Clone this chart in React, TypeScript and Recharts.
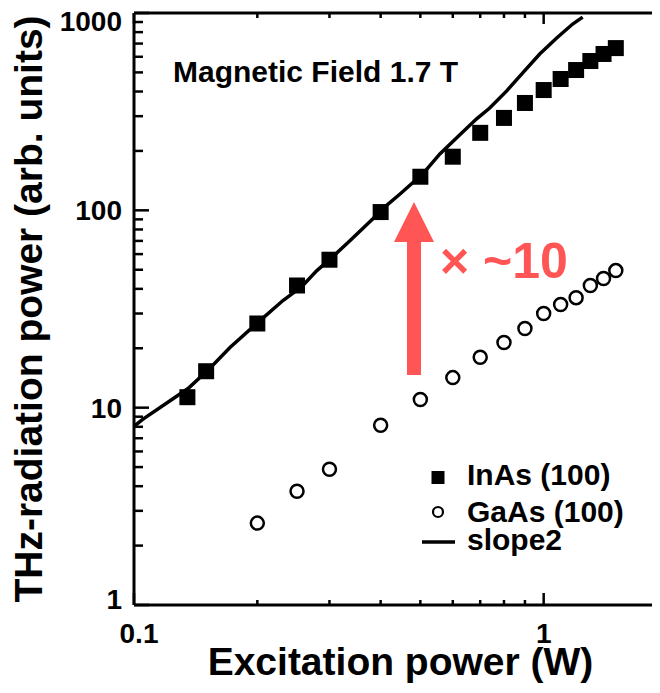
import React from 'react';
import { ComposedChart, Scatter, XAxis, YAxis, Legend } from 'recharts';

// ---- data ----
const inasX = [0.135, 0.15, 0.2, 0.25, 0.3, 0.4, 0.5, 0.6, 0.7, 0.8, 0.9, 1.0, 1.1, 1.2, 1.3, 1.4, 1.5];
const inasY = [11.3, 15.3, 26.7, 41.6, 56.2, 98, 148, 187, 247, 294, 350, 407, 463, 514, 571, 620, 664];
const gaasX = [0.2, 0.25, 0.3, 0.4, 0.5, 0.6, 0.7, 0.8, 0.9, 1.0, 1.1, 1.2, 1.3, 1.4, 1.5];
const gaasY = [2.6, 3.77, 4.87, 8.14, 11.0, 14.2, 18.0, 21.4, 25.2, 30.0, 33.3, 36.1, 41.6, 45.1, 49.5];
const slopeX = [0.1, 0.105, 0.1355, 0.153, 0.1715, 0.203, 0.231, 0.257, 0.2795, 0.304, 0.3365, 0.383, 0.405, 0.446, 0.507, 0.558, 0.6135, 0.686, 0.7385, 0.8125, 0.889, 0.978, 1.076, 1.177, 1.245];
const slopeY = [8.04, 8.73, 12.5, 15.8, 20.2, 27.6, 34.9, 41.1, 49.5, 57.6, 70.2, 90.7, 102, 121, 153, 193, 233, 291, 330, 403, 497, 620, 747, 879, 953];

const xTicks = [0.1, 0.2, 0.3, 0.4, 0.5, 0.6, 0.7, 0.8, 0.9, 1];
const xMajor = [0.1, 1];
const yTicks = [1, 2, 3, 4, 5, 6, 7, 8, 9, 10, 20, 30, 40, 50, 60, 70, 80, 90, 100, 200, 300, 400, 500, 600, 700, 800, 900, 1000];
const yMajor = [1, 10, 100, 1000];

const seriesNames = ['InAs (100)', 'GaAs (100)', 'slope2'];
const annotationText = 'Magnetic Field 1.7 T';
const factorText = '\u00d7 ~10';
const xTitle = 'Excitation power (W)';
const yTitle = 'THz-radiation power (arb. units)';

const inasData = inasX.map((x, i) => ({ x, y: inasY[i] }));
const gaasData = gaasX.map((x, i) => ({ x, y: gaasY[i] }));
const slopeData = slopeX.map((x, i) => ({ x, y: slopeY[i] }));

const FONT = '"Liberation Sans", Arial, Helvetica, sans-serif';
const RED = '#ff5555';

const BottomTick = (p: any) => {
  const { x, y, payload } = p;
  const v = payload.value;
  const major = xMajor.includes(v);
  return (
    <g>
      <line x1={x} x2={x} y1={y} y2={y - (major ? 12 : 5)} stroke="#000" strokeWidth={2.5} />
      {major && (
        <text x={x + (v === 0.1 ? 5 : 0)} y={y + 38} textAnchor="middle" fontFamily={FONT} fontWeight="bold" fontSize={28} fill="#000">
          {String(v)}
        </text>
      )}
    </g>
  );
};

const TopTick = (p: any) => {
  const { x, y, payload } = p;
  const major = xMajor.includes(payload.value);
  return <line x1={x} x2={x} y1={y} y2={y + (major ? 11 : 5)} stroke="#000" strokeWidth={2.5} />;
};

const LeftTick = (p: any) => {
  const { x, y, payload } = p;
  const v = payload.value;
  const major = yMajor.includes(v);
  const shift = v === 1000 ? 8 : v === 1 ? -6 : 0;
  return (
    <g>
      <line x1={x} x2={x + (major ? 15 : 9)} y1={y} y2={y} stroke="#000" strokeWidth={2.5} />
      {major && (
        <text x={x - 12} y={y + shift} dy="0.36em" textAnchor="end" fontFamily={FONT} fontWeight="bold" fontSize={28} fill="#000">
          {String(v)}
        </text>
      )}
    </g>
  );
};

const RightTick = (p: any) => {
  const { x, y, payload } = p;
  const major = yMajor.includes(payload.value);
  return <line x1={x} x2={x - (major ? 14 : 9)} y1={y} y2={y} stroke="#000" strokeWidth={2.5} />;
};

const SquareShape = (p: any) => <rect x={p.cx - 8} y={p.cy - 8} width={16} height={16} fill="#000" />;
const CircleShape = (p: any) => <circle cx={p.cx} cy={p.cy} r={6.5} fill="#fff" stroke="#000" strokeWidth={2.5} />;
const NoShape = () => <g />;

const XTitle = (p: any) => {
  const vb = p.viewBox;
  return (
    <text x={vb.x + vb.width / 2} y={vb.y + 70} textAnchor="middle" fontFamily={FONT} fontWeight="bold" fontSize={39} fill="#000">
      {xTitle}
    </text>
  );
};

const YTitle = (p: any) => {
  const vb = p.viewBox;
  const cx = 34;
  const cy = vb.y + vb.height / 2;
  return (
    <text x={cx} y={cy} transform={`rotate(-90, ${cx}, ${cy})`} textAnchor="middle" fontFamily={FONT} fontWeight="bold" fontSize={39} fill="#000">
      {yTitle}
    </text>
  );
};

const LegendContent = () => (
  <svg width={240} height={110} style={{ display: 'block', overflow: 'visible' }}>
    <rect x={23.5} y={23} width={13} height={13} fill="#000" />
    <circle cx={30} cy={64} r={5} fill="#fff" stroke="#000" strokeWidth={2.2} />
    <line x1={14} x2={47} y1={94} y2={94} stroke="#000" strokeWidth={3.5} />
    {seriesNames.map((n, i) => (
      <text key={n} x={59} y={[37, 74, 102][i]} fontFamily={FONT} fontWeight="bold" fontSize={30} fill="#000">
        {n}
      </text>
    ))}
  </svg>
);

export default function App() {
  return (
    <div style={{ position: 'relative', width: 652, height: 677, overflow: 'hidden', background: '#fff' }}>
      <ComposedChart width={672} height={677} margin={{ top: 4, right: 12, left: 0, bottom: 0 }}>
        <XAxis
          xAxisId="b"
          dataKey="x"
          type="number"
          scale="log"
          domain={[0.1, 2]}
          allowDataOverflow
          ticks={xTicks}
          interval={0}
          tickSize={0}
          tickMargin={0}
          tickLine={false}
          tick={<BottomTick />}
          axisLine={{ stroke: '#000', strokeWidth: 3 }}
          height={80}
          orientation="bottom"
          label={<XTitle />}
        />
        <XAxis
          xAxisId="t"
          dataKey="x"
          type="number"
          scale="log"
          domain={[0.1, 2]}
          allowDataOverflow
          ticks={xTicks}
          interval={0}
          tickSize={0}
          tickMargin={0}
          tickLine={false}
          tick={<TopTick />}
          axisLine={{ stroke: '#000', strokeWidth: 3 }}
          height={1}
          orientation="top"
        />
        <YAxis
          yAxisId="l"
          dataKey="y"
          type="number"
          scale="log"
          domain={[1, 1000]}
          allowDataOverflow
          ticks={yTicks}
          interval={0}
          tickSize={0}
          tickMargin={0}
          tickLine={false}
          tick={<LeftTick />}
          axisLine={{ stroke: '#000', strokeWidth: 3 }}
          width={126}
          orientation="left"
          label={<YTitle />}
        />
        <YAxis
          yAxisId="r"
          dataKey="y"
          type="number"
          scale="log"
          domain={[1, 1000]}
          allowDataOverflow
          ticks={yTicks}
          interval={0}
          tickSize={0}
          tickMargin={0}
          tickLine={false}
          tick={<RightTick />}
          axisLine={{ stroke: '#000', strokeWidth: 3 }}
          width={1}
          orientation="right"
        />
        <Scatter
          name={seriesNames[2]}
          xAxisId="b"
          yAxisId="l"
          data={slopeData}
          line={{ stroke: '#000', strokeWidth: 3.5 }}
          lineType="joint"
          shape={<NoShape />}
          isAnimationActive={false}
        />
        <Scatter name={seriesNames[0]} xAxisId="b" yAxisId="l" data={inasData} shape={<SquareShape />} isAnimationActive={false} />
        <Scatter name={seriesNames[1]} xAxisId="b" yAxisId="l" data={gaasData} shape={<CircleShape />} isAnimationActive={false} />
        <Legend
          layout="vertical"
          align="center"
          verticalAlign="middle"
          content={<LegendContent />}
          wrapperStyle={{ position: 'absolute', left: 400, top: 440, width: 240, height: 110 }}
        />
      </ComposedChart>
      <svg width={652} height={677} style={{ position: 'absolute', left: 0, top: 0, pointerEvents: 'none' }}>
        <text x={165} y={74} fontFamily={FONT} fontWeight="bold" fontSize={30} fill="#000">
          {annotationText}
        </text>
        <polygon points="399,367 413,367 413,234 426,234 406,194 386,234 399,234" fill={RED} />
        <text x={432} y={270} fontFamily={FONT} fontWeight="bold" fontSize={50} fill={RED}>
          {factorText}
        </text>
      </svg>
    </div>
  );
}
